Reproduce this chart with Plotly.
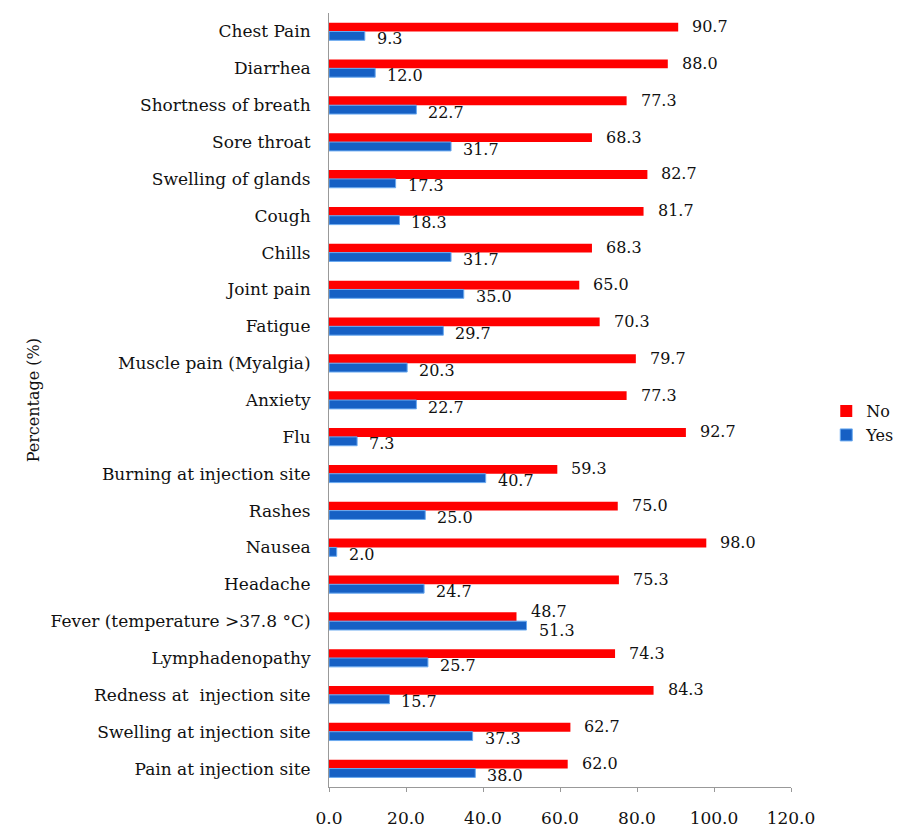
import plotly.graph_objects as go

categories = ["Chest Pain", "Diarrhea", "Shortness of breath", "Sore throat", "Swelling of glands",
              "Cough", "Chills", "Joint pain", "Fatigue", "Muscle pain (Myalgia)", "Anxiety", "Flu",
              "Burning at injection site", "Rashes", "Nausea", "Headache",
              "Fever (temperature >37.8 °C)", "Lymphadenopathy", "Redness at  injection site",
              "Swelling at injection site", "Pain at injection site"]
no_vals = [90.7, 88.0, 77.3, 68.3, 82.7, 81.7, 68.3, 65.0, 70.3, 79.7, 77.3, 92.7, 59.3, 75.0,
           98.0, 75.3, 48.7, 74.3, 84.3, 62.7, 62.0]
yes_vals = [9.3, 12.0, 22.7, 31.7, 17.3, 18.3, 31.7, 35.0, 29.7, 20.3, 22.7, 7.3, 40.7, 25.0,
            2.0, 24.7, 51.3, 25.7, 15.7, 37.3, 38.0]
x_ticks = [0, 20, 40, 60, 80, 100, 120]

FONT = "DejaVu Serif"

fig = go.Figure()
fig.add_trace(go.Bar(
    y=categories, x=no_vals, name="No", orientation="h",
    marker=dict(color="#ff0000", line=dict(width=0)),
))
fig.add_trace(go.Bar(
    y=categories, x=yes_vals, name="Yes", orientation="h",
    marker=dict(color="#1660c4", line=dict(color="#6aaaf0", width=1)),
))

# value labels
for cat, n, y in zip(categories, no_vals, yes_vals):
    close = abs(n - y) < 10
    fig.add_annotation(x=n, y=cat, text=f"{n:.1f}", showarrow=False, xanchor="left",
                       yanchor="middle", xshift=12, yshift=10 if close else 5,
                       font=dict(family=FONT, size=16, color="#111"))
    fig.add_annotation(x=y, y=cat, text=f"{y:.1f}", showarrow=False, xanchor="left",
                       yanchor="middle", xshift=10, yshift=-9 if close else -7,
                       font=dict(family=FONT, size=16, color="#111"))

fig.update_layout(
    width=913, height=834,
    margin=dict(l=329, r=122, t=13, b=47),
    barmode="group", bargap=0.52, bargroupgap=0.0,
    plot_bgcolor="white", paper_bgcolor="white",
    font=dict(family=FONT, size=16, color="#111"),
    showlegend=True,
    legend=dict(xref="container", x=0.905, y=0.47, xanchor="left", yanchor="middle",
                font=dict(family=FONT, size=16), traceorder="normal",
                itemwidth=30, tracegroupgap=4, bgcolor="rgba(0,0,0,0)"),
)
fig.update_xaxes(
    range=[0, 120], tickvals=x_ticks, tickformat=".1f", automargin=False,
    showgrid=False, zeroline=False, showline=True, linecolor="#999", linewidth=1,
    ticks="outside", ticklen=4, tickcolor="#999", ticklabelstandoff=12,
    tickfont=dict(family=FONT, size=17),
)
fig.update_yaxes(
    autorange="reversed", showgrid=False, showline=True, linecolor="#999", linewidth=1,
    ticks="", ticklabelstandoff=14, tickfont=dict(family=FONT, size=17), title_text="",
    automargin=False,
)
fig.add_annotation(text="Percentage (%)", xref="paper", yref="paper", x=-0.64, y=0.5,
                   textangle=-90, showarrow=False, font=dict(family=FONT, size=16),
                   xanchor="center", yanchor="middle")

fig.write_html("out.html")
